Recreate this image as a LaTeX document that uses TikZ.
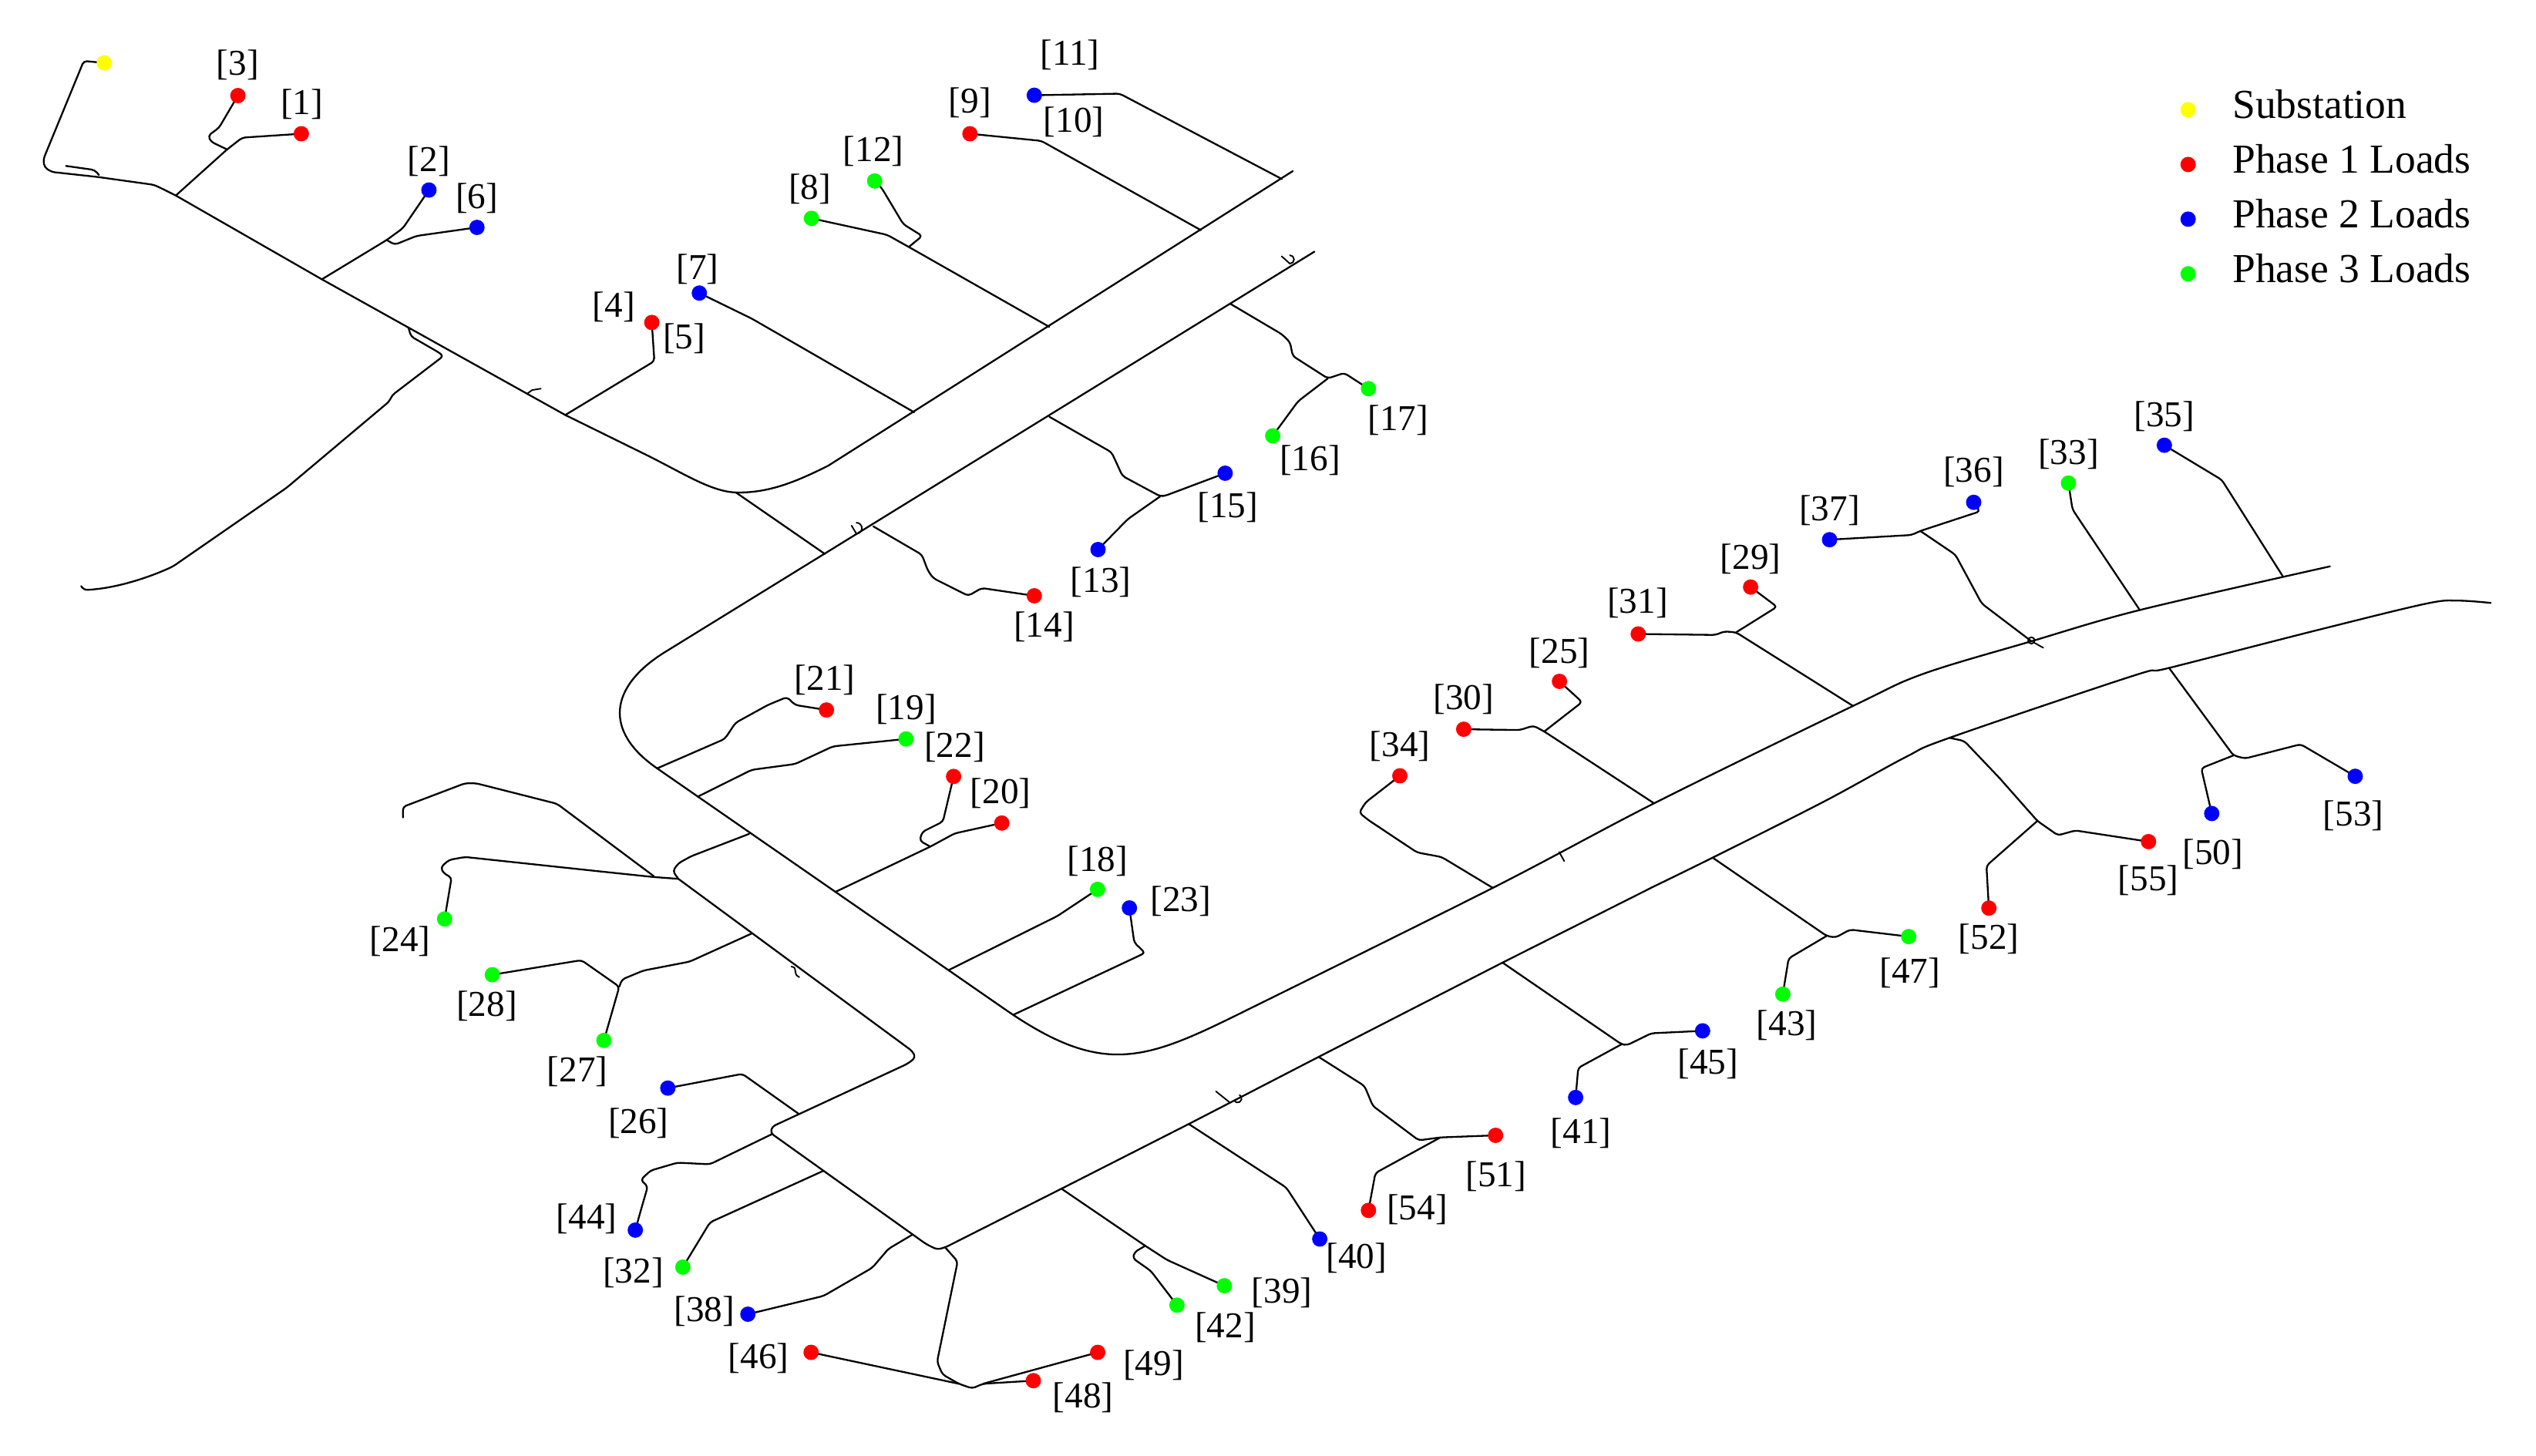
\documentclass[tikz,border=0pt]{standalone}
\usepackage{fontspec}
\setmainfont{Liberation Serif}
\newcommand\lblfont{\fontsize{22.5}{24}\selectfont}
\newcommand\legfont{\fontsize{25.5}{27}\selectfont}
\definecolor{pyellow}{RGB}{255,255,0}
\definecolor{pred}{RGB}{255,0,0}
\definecolor{pblue}{RGB}{0,0,255}
\definecolor{pgreen}{RGB}{0,255,0}
\pgfdeclarelayer{bg}
\pgfsetlayers{bg,main}
\begin{document}
\begin{tikzpicture}[x=1pt,y=-1pt,
  wire/.style={line width=1.1pt,line join=round,line cap=round,rounded corners=2pt},
  tick/.style={line width=0.9pt,line cap=round},
  dot/.style={circle,inner sep=0pt,minimum size=9.5pt,draw=none},
  lab/.style={font=\lblfont,inner sep=0pt},
  leg/.style={font=\legfont,inner sep=0pt}]
\useasboundingbox (0,0) rectangle (1568,900);
% ---------- load dots ----------
\node[dot,fill=pyellow] (nsub) at (64.5,38.9) {};
\foreach \n/\x/\y/\c in {1/186.3/82.7/pred,2/265.2/117.5/pblue,3/147.1/59.1/pred,4/403/199.4/pred,
 6/294.9/140.6/pblue,7/432.4/181.2/pblue,8/501.7/135/pgreen,9/599.7/82.7/pred,11/639.5/58.9/pblue,
 12/540.8/111.9/pgreen,13/678.9/339.8/pblue,14/639.5/368.4/pred,15/757.5/292.6/pblue,16/786.9/269.5/pgreen,
 17/846.1/240.3/pgreen,18/678.6/549.9/pgreen,19/560.2/456.9/pgreen,20/619.4/508.9/pred,21/511/439/pred,
 22/589.6/480.1/pred,23/698.3/561.4/pblue,24/274.9/568.2/pgreen,25/964.2/421.3/pred,26/412.9/672.8/pblue,
 27/373.4/643.3/pgreen,28/304.4/602.7/pgreen,29/1082.4/363/pred,30/905/450.9/pred,31/1012.9/392/pred,
 32/422.2/783.5/pgreen,33/1278.9/298.7/pgreen,34/865.5/479.7/pred,35/1338.2/275.3/pblue,36/1220.3/310.6/pblue,
 37/1131.2/333.7/pblue,38/462.4/812.6/pblue,39/757/795/pgreen,40/816/766.1/pblue,41/974.2/678.6/pblue,
 42/727.7/807/pgreen,43/1102.3/614.7/pgreen,44/392.8/760.6/pblue,45/1052.7/637.4/pblue,46/501.5/836.2/pred,
 47/1180.1/579.1/pgreen,48/638.9/853.7/pred,49/678.7/836.2/pred,50/1367.5/503/pblue,51/924.7/702/pred,
 52/1229.7/561.5/pred,53/1456.2/480/pblue,54/846.1/748.4/pred,55/1328.4/520.4/pred}
  \node[dot,fill=\c] (n\n) at (\x,\y) {};
% ---------- labels ----------
\foreach \n/\x/\y in {1/186.6/64.4,2/265.2/99.7,3/147/40.1,4/379.5/189.7,5/423/209.2,6/294.9/122.8,
 7/431.4/166.6,8/500.7/116.7,9/599.7/63.7,10/663.9/75.4,11/661.5/34,12/540.1/93.6,13/680.6/359.9,
 14/645.5/387.6,15/759.2/313.7,16/810/284.5,17/864.5/259.7,18/678.6/532.6,19/560.2/438.7,20/618.7/490.7,
 21/510/420.4,22/590.3/462,23/730.1/557.2,24/247.5/581.9,25/964.2/404,26/394.8/694.7,27/357/662.7,
 28/301/622,29/1082.4/345.6,30/905/432.3,31/1012.5/373,32/391.5/786.8,33/1278.9/280.9,34/865.5/461.5,
 35/1338.2/257.3,36/1220.3/291.8,37/1131.2/315.7,38/435.6/811,39/792.6/799.3,40/838.7/778,41/977.5/700.6,
 42/757.5/820.6,43/1104.8/634,44/362.7/753.8,45/1056.1/657.6,46/469/840.1,47/1180.8/601.5,48/669.7/864.4,
 49/713.2/844,50/1368.2/528,51/925/727.5,52/1229.7/580.7,53/1455.1/504.6,54/876.2/747.7,55/1328.4/544.2}
  \node[lab] (l\n) at (\x,\y) {[\n]};
% ---------- legend ----------
\node[dot,fill=pyellow] (lg1) at (1352.9,67.8) {};
\node[dot,fill=pred] (lg2) at (1352.9,101.7) {};
\node[dot,fill=pblue] (lg3) at (1352.9,135.5) {};
\node[dot,fill=pgreen] (lg4) at (1352.9,169.3) {};
\node[leg,anchor=base west] (lt1) at (1380.2,73.1) {Substation};
\node[leg,anchor=base west] (lt2) at (1380.2,107) {Phase 1 Loads};
\node[leg,anchor=base west] (lt3) at (1380.2,140.8) {Phase 2 Loads};
\node[leg,anchor=base west] (lt4) at (1380.2,174.6) {Phase 3 Loads};
% ---------- junction coordinates ----------
\coordinate (j0) at (108.7,120.9);
\coordinate (j1) at (199,172.7);
\coordinate (j2) at (349.5,256.6);
\coordinate (j3) at (401.3,282.1);
\coordinate (jm) at (455,304.5);
\coordinate (jB) at (812.7,155.6);
\coordinate (jB2) at (411.3,403.1);
\coordinate (jU) at (406.3,475.1);
\coordinate (jU2) at (622,624.5);
\coordinate (jC0) at (768,626);
\coordinate (jC1) at (923,549);
\coordinate (jC2) at (1022.7,496.7);
\coordinate (jC3) at (1145.7,436.5);
\coordinate (jC4) at (1256,396.5);
\coordinate (jC5) at (1323,377.2);
\coordinate (jC6) at (1411.6,356.6);
\coordinate (jL) at (419.4,543.4);
\coordinate (jD0) at (584.4,771.3);
\coordinate (jD1) at (656.3,735);
\coordinate (jD2) at (735,695);
\coordinate (jD3) at (815.3,653.5);
\coordinate (jD4) at (929,595.2);
\coordinate (jD5) at (1022.6,548.1);
\coordinate (jD6) at (1058.9,530.3);
\coordinate (jD7) at (1205.4,456.2);
\coordinate (jD8) at (1341.1,413);
\begin{pgfonlayer}{bg}
\fill[white] (0,0) rectangle (1568,900);
% substation feeder
\draw[wire] (nsub.center) -- (51.8,37.7) -- (26.8,98.5) -- (27.5,103.4) -- (31.8,106.3) -- (60.2,109.4) -- (95.3,114.3) -- (100.3,116.7) -- (j0);
\draw[wire] (40.8,102.6) -- (58.5,105.1) -- (61.2,108.2);
% main feeder
\draw[wire,rounded corners=0pt] (j0) -- (j1) -- (j2) -- (j3) .. controls (423,293) and (440,304) .. (jm) .. controls (475,305) and (492,298) .. (512,288) -- (799.3,105.8);
\draw[wire] (jm) -- (510,342.5);
\draw[tick] (326,243.4) -- (329,241.2) -- (334.4,240.3);
% long branch to the lower left
\draw[wire] (252.5,202.4) -- (254.1,208) -- (270.9,217.7) -- (274.2,220.1) -- (242.4,244.4) -- (240.8,248.1) -- (177.2,301.6) -- (107,350.2) .. controls (90,358) and (70,364) .. (51.8,364.8) -- (50.2,362.4);
% branches [1] [3]
\draw[wire] (j0) -- (140.4,92.4) -- (149.8,85.1) -- (n1.center);
\draw[wire] (140.4,92.4) -- (130.4,87.6) -- (128.7,83.9) -- (135.4,79) -- (n3.center);
% branches [2] [6]
\draw[wire] (j1) -- (239.1,148.4) -- (249.1,141.1) -- (n2.center);
\draw[wire] (239.1,148.4) -- (244.1,151.3) -- (257.5,145.9) -- (n6.center);
% branch [4]
\draw[wire] (j2) -- (404.6,223.3) -- (n4.center);
% branches to line A
\draw[wire] (n7.center) -- (464.8,197) -- (565.2,254.9);
\draw[wire] (n8.center) -- (548.5,145.2) -- (561.9,152.7) -- (648.8,202.1);
\draw[wire] (n12.center) -- (545.1,116.2) -- (558.5,138.6) -- (570.2,145.9) -- (561.9,152.7);
\draw[wire] (n9.center) -- (643.8,87.1) -- (742.5,142.3);
\draw[wire] (n11.center) -- (692.3,57.9) -- (792.6,110.7);
% line B, U1 and line C (one road edge)
\draw[wire,rounded corners=0pt] (jB) -- (jB2) .. controls (376.3,424.7) and (373.3,452.3) .. (jU) -- (jU2) .. controls (682,665.9) and (708,655.7) .. (jC0);
\draw[wire,rounded corners=0pt] plot[smooth,tension=0.55] coordinates {(jC0) (jC1) (jC2) (jC3) (1189,416.7) (jC4) (jC5) (1440.6,350.2)};
\draw[tick] (792.5,158.5) -- (797.5,163) arc[start angle=90,end angle=-90,radius=2.6];
\draw[tick] (526.5,325) -- (529.5,330) arc[start angle=90,end angle=-90,radius=3.4];
\draw[tick] (1256,396) circle[radius=2];
\draw[tick] (1257.5,397.3) -- (1263.3,400.5);
\draw[tick] (964,526.8) -- (967.2,532.5);
% branches off line B
\draw[wire] (760.8,187.9) -- (792.6,206.7) -- (797.6,211.6) -- (799.3,220.1) -- (821,234) -- (831.1,230.6) -- (n17.center);
\draw[wire] (821,234) -- (802.6,248.1) -- (n16.center);
\draw[wire] (648.8,257.7) -- (687.3,279.7) -- (694,294.3) -- (717.4,306.9) -- (720.5,306.5) -- (n15.center);
\draw[wire] (717.4,306.9) -- (697.3,321) -- (n13.center);
\draw[wire] (540,325.5) -- (570,343) -- (573.6,352.6) -- (577,357.5) -- (598.7,368.4) -- (607,363.6) -- (n14.center);
% branches off U1
\draw[wire] (jU) -- (448.1,456.9) -- (454.8,446.9) -- (474.8,435.9) -- (486.6,431) -- (491.6,435.9) -- (n21.center);
\draw[wire] (431.4,492.6) -- (464.8,476) -- (491.6,472.4) -- (515,461.5) -- (n19.center);
\draw[wire] (516.7,551.4) -- (575.2,523.5) -- (590.3,515.3) -- (n20.center);
\draw[wire] (n22.center) -- (583,508) -- (570.2,514.4) -- (568.6,519.8) -- (575.2,523.5);
\draw[wire] (587,599.6) -- (653.8,566.4) -- (n18.center);
\draw[wire] (626.5,627.5) -- (708,589.2) -- (701.3,582.8) -- (n23.center);
% branches off line C (upper side)
\draw[wire] (n34.center) -- (844.4,496.1) -- (840.4,502.5) -- (846.1,507.1) -- (876.2,527.1) -- (891.3,529.9) -- (jC1);
\draw[wire] (n30.center) -- (939.7,451.4) -- (948.1,448.7) -- (954.8,452.3) -- (jC2);
\draw[wire] (954.8,452.3) -- (978.2,434.1) -- (n25.center);
\draw[wire] (n31.center) -- (1060.7,392.6) -- (1066.1,390.4) -- (1073.4,391) -- (jC3);
\draw[wire] (1073.4,391) -- (1098.7,375.2) -- (n29.center);
\draw[wire] (n37.center) -- (1181.9,330.8) -- (1187.3,328.3) -- (1224.2,316.2) -- (n36.center);
\draw[wire] (1187.3,328.3) -- (1209,343) -- (1225.3,373.2) -- (jC4);
\draw[wire] (n33.center) -- (1281.4,315) -- (jC5);
\draw[wire] (n35.center) -- (1373.7,296.7) -- (jC6);
% left road edge, [24] line and L1 / line D
\draw[wire] (249.2,505.5) -- (249.1,498.9) -- (287.6,484.3) -- (294.3,484.3) -- (344.4,497) -- (404.3,541.8);
\draw[wire] (n24.center) -- (279.2,542.6) -- (274.2,539.9) -- (272.5,536.3) -- (277.6,531.7) -- (287.6,529.9) -- (371.8,538.9) -- (404.3,542.3) -- (jL);
\draw[wire] (jL) -- (416,538.6) -- (419.4,533.8) -- (427.4,529.4) -- (463.2,515.6);
\draw[wire] (jL) -- (564.3,650.1) -- (566,654) -- (561,657.8) -- (477.4,696.6) -- (476.4,700.5) -- (572.7,769.3) -- (579.4,772.6) -- (jD0) -- (jD1) -- (jD2) -- (jD3) -- (jD4) -- (jD5);
\draw[wire,rounded corners=0pt] plot[smooth,tension=0.55] coordinates {(jD5) (jD6) (1127.6,495.7) (1178.3,468.1) (jD7) (1319.4,417.7) (jD8) (1435.2,389) (1500.3,373.2) (1520,371.4) (1540,372.8)};
\draw[tick] (489.3,597.6) .. controls (494,598.5) and (489.5,602) .. (494.2,604.2);
\draw[tick] (751.8,674.8) -- (760,681.4);
\draw[tick] (763,680.5) arc[start angle=150,end angle=-60,radius=2.5];
% branches off line D
\draw[wire] (jD8) -- (1380.9,467.1) -- (1388.1,469) -- (1422.5,460.2) -- (n53.center);
\draw[wire] (1380.9,467.1) -- (1361,475) -- (n50.center);
\draw[wire] (jD7) -- (1214.5,458.2) -- (1236.2,481) -- (1259.7,507.6) -- (1272.4,516.5) -- (1283.2,513.5) -- (n55.center);
\draw[wire] (1259.7,507.6) -- (1228.2,535.3) -- (n52.center);
\draw[wire] (jD6) -- (1129.4,578.7) -- (1134.9,579.7) -- (1143.9,574.8) -- (n47.center);
\draw[wire] (1129.4,578.7) -- (1105.9,592.6) -- (n43.center);
\draw[wire] (jD4) -- (1002.6,645.7) -- (1005.9,646.3) -- (1021,638.9) -- (n45.center);
\draw[wire] (1002.6,645.7) -- (975.8,660.3) -- (n41.center);
\draw[wire] (jD3) -- (843.7,671.5) -- (848.8,683.8) -- (877.2,705.1) -- (890.6,703.3) -- (n51.center);
\draw[wire] (890.6,703.3) -- (850.4,725.3) -- (n54.center);
\draw[wire] (jD2) -- (795.3,734.3) -- (n40.center);
\draw[wire] (jD1) -- (708.1,770.3) -- (721.5,779) -- (n39.center);
\draw[wire] (708.1,770.3) -- (701.5,774.2) -- (700.4,778) -- (711.5,785.8) -- (n42.center);
% branches off L1
\draw[wire] (n26.center) -- (459,664) -- (494.1,688.9);
\draw[wire] (n44.center) -- (395.5,750.9) -- (400.5,733.5) -- (396.1,729.6) -- (402.2,723.8) -- (418.9,718.9) -- (438.9,719.9) -- (477.4,701.2);
\draw[wire] (n32.center) -- (439,755.8) -- (509.2,723.9);
\draw[wire] (n38.center) -- (509.2,801.3) -- (539.3,783.9) -- (549.3,772.2) -- (564.3,763.3);
\draw[wire] (n28.center) -- (359.5,593.7) -- (382.9,610.1) -- (n27.center);
\draw[wire] (382.9,610.1) -- (384.6,605.6) -- (397.9,600.1) -- (426.4,594.6) -- (464.8,577.2);
% bottom loads [46] [48] [49]
\draw[wire] (jD0) -- (592.1,780) -- (579.4,842) -- (582.7,849.8) -- (592.8,855.6) -- (601.1,858.5) -- (607.8,855.6) -- (n48.center);
\draw[wire] (n46.center) -- (592.8,855.6);
\draw[wire] (607.8,855.6) -- (n49.center);
\end{pgfonlayer}
\end{tikzpicture}
\end{document}
